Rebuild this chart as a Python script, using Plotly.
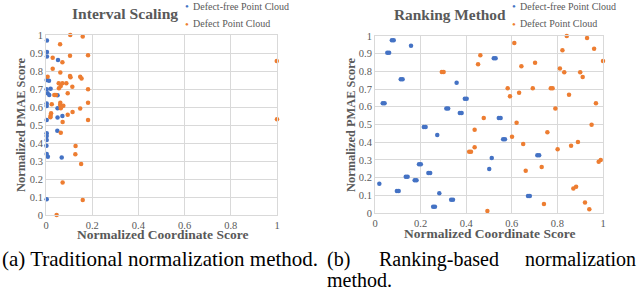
import plotly.graph_objects as go

# ---------------- data: Interval Scaling ----------------
is_free_x = [0.004, 0.004, 0.004, 0.052, 0.003, 0.013, 0.003, 0.020, 0.007, 0.014, 0.050,
             0.003, 0.003, 0.050, 0.071, 0.050, 0.003, 0.003, 0.003, 0.003, 0.002, 0.049,
             0.003, 0.008, 0.068, 0.003]
is_free_y = [0.970, 0.906, 0.880, 0.861, 0.750, 0.746, 0.698, 0.702, 0.676, 0.667, 0.665,
             0.620, 0.606, 0.593, 0.550, 0.541, 0.528, 0.454, 0.439, 0.417, 0.385, 0.468,
             0.339, 0.324, 0.320, 0.087]
is_def_x = [0.105, 0.159, 0.061, 0.182, 0.104, 0.029, 0.071, 0.029, 0.062, 0.007, 0.104, 0.106,
            0.148, 0.154, 0.055, 0.071, 0.088, 0.064, 0.114, 0.056, 0.182, 0.094, 0.036, 0.043,
            0.062, 0.182, 0.025, 0.061, 0.075, 0.064, 0.148, 0.115, 0.094, 0.022, 0.020, 0.019,
            0.072, 0.182, 0.999, 1.000, 0.064, 0.128, 0.127, 0.152, 0.072, 0.159, 0.046]
is_def_y = [1.000, 0.991, 0.948, 0.887, 0.885, 0.874, 0.848, 0.813, 0.791, 0.768, 0.772, 0.765,
            0.768, 0.759, 0.732, 0.732, 0.732, 0.717, 0.713, 0.704, 0.698, 0.676, 0.667, 0.667,
            0.624, 0.624, 0.615, 0.611, 0.607, 0.593, 0.591, 0.572, 0.557, 0.565, 0.552, 0.543,
            0.517, 0.528, 0.856, 0.532, 0.457, 0.383, 0.337, 0.283, 0.180, 0.083, 0.000]

# ---------------- data: Ranking Method ----------------
rk_free_x = [0.019, 0.034, 0.042, 0.054, 0.062, 0.074, 0.082, 0.096, 0.104, 0.113, 0.121,
             0.135, 0.143, 0.158, 0.174, 0.182, 0.193, 0.201, 0.214, 0.222, 0.234, 0.242,
             0.255, 0.263, 0.273, 0.282, 0.313, 0.321, 0.334, 0.342, 0.358, 0.372, 0.380,
             0.394, 0.402, 0.501, 0.512, 0.521, 0.529, 0.543, 0.551, 0.562, 0.570, 0.671,
             0.679, 0.712, 0.720]
rk_free_y = [0.165, 0.620, 0.620, 0.906, 0.906, 0.976, 0.976, 0.125, 0.125, 0.755, 0.755,
             0.205, 0.205, 0.945, 0.185, 0.185, 0.275, 0.275, 0.486, 0.486, 0.226, 0.226,
             0.036, 0.036, 0.440, 0.111, 0.591, 0.591, 0.075, 0.075, 0.736, 0.565, 0.565,
             0.646, 0.646, 0.249, 0.311, 0.874, 0.874, 0.537, 0.537, 0.416, 0.416, 0.096,
             0.096, 0.326, 0.326]
rk_def_x = [0.293, 0.301, 0.413, 0.421, 0.437, 0.437, 0.452, 0.462, 0.477, 0.493, 0.582,
            0.592, 0.601, 0.611, 0.621, 0.632, 0.642, 0.650, 0.661, 0.692, 0.702, 0.731,
            0.741, 0.756, 0.771, 0.779, 0.791, 0.801, 0.811, 0.822, 0.830, 0.841, 0.851,
            0.860, 0.870, 0.882, 0.890, 0.900, 0.911, 0.921, 0.930, 0.940, 0.950, 0.961,
            0.969, 0.981, 0.990, 1.000]
rk_def_y = [0.797, 0.797, 0.346, 0.346, 0.371, 0.470, 0.840, 0.891, 0.537, 0.011, 0.705,
            0.659, 0.431, 0.960, 0.510, 0.680, 0.829, 0.390, 0.239, 0.705, 0.849, 0.260,
            0.051, 0.456, 0.705, 0.705, 0.591, 0.360, 0.817, 0.919, 0.795, 1.000, 0.668,
            0.380, 0.139, 0.149, 0.401, 0.795, 0.768, 0.060, 0.989, 0.021, 0.499, 0.928,
            0.620, 0.290, 0.300, 0.859]

x_ticks = [0, 0.2, 0.4, 0.6, 0.8, 1]
y_ticks = [0, 0.1, 0.2, 0.3, 0.4, 0.5, 0.6, 0.7, 0.8, 0.9, 1]

titles = ["Interval Scaling", "Ranking Method"]
legend_names = ["Defect-free Point Cloud", "Defect Point Cloud"]

BLUE = "#4472C4"
ORANGE = "#ED7D31"
GREY = "#595959"
GRID = "#D9D9D9"
SERIF = "Liberation Serif"

W, H = 640, 290

def px(x):
    return x / W

def py(y):
    return 1 - y / H

fig = go.Figure()

mk = dict(size=4.5)
fig.add_trace(go.Scatter(x=is_free_x, y=is_free_y, mode="markers", name=legend_names[0],
                         marker=dict(color=BLUE, **mk), xaxis="x", yaxis="y", cliponaxis=False))
fig.add_trace(go.Scatter(x=is_def_x, y=is_def_y, mode="markers", name=legend_names[1],
                         marker=dict(color=ORANGE, **mk), xaxis="x", yaxis="y", cliponaxis=False))
fig.add_trace(go.Scatter(x=rk_free_x, y=rk_free_y, mode="markers", name=legend_names[0],
                         marker=dict(color=BLUE, **mk), xaxis="x2", yaxis="y2", cliponaxis=False))
fig.add_trace(go.Scatter(x=rk_def_x, y=rk_def_y, mode="markers", name=legend_names[1],
                         marker=dict(color=ORANGE, **mk), xaxis="x2", yaxis="y2", cliponaxis=False))

axis_common = dict(range=[0, 1], showgrid=True, gridcolor=GRID, gridwidth=1,
                   zeroline=False, showline=True, linecolor=GRID, linewidth=1, mirror=True,
                   ticks="", tickfont=dict(family=SERIF, size=10.5, color=GREY), fixedrange=True,
                   automargin=False)

fig.update_layout(
    width=W, height=H, autosize=False,
    margin=dict(l=0, r=0, t=0, b=0, pad=0, autoexpand=False),
    paper_bgcolor="white", plot_bgcolor="white",
    font=dict(family=SERIF, color=GREY),
    xaxis=dict(domain=[px(46), px(277)], anchor="y", tickvals=x_ticks, **axis_common),
    yaxis=dict(domain=[py(215), py(35)], anchor="x", tickvals=y_ticks, **axis_common),
    xaxis2=dict(domain=[px(375), px(603)], anchor="y2", tickvals=x_ticks, **axis_common),
    yaxis2=dict(domain=[py(213), py(36)], anchor="x2", tickvals=y_ticks, **axis_common),
    showlegend=False,
)

ann = []

def add(x, y, text, size, color=GREY, xanchor="center", angle=0):
    ann.append(dict(x=px(x), y=py(y), text=text, showarrow=False, xref="paper", yref="paper",
                    xanchor=xanchor, yanchor="middle", textangle=angle,
                    font=dict(family=SERIF, size=size, color=color)))

# chart titles
add(125, 14, "<b>" + titles[0] + "</b>", 15.6)
add(450, 15, "<b>" + titles[1] + "</b>", 15.4)
# legends (marker bullet + label)
for lx in [187, 514]:
    add(lx, 6, "•", 11, color=BLUE)
    add(lx + 4, 6, legend_names[0], 10, xanchor="left")
    add(lx, 24, "•", 11, color=ORANGE)
    add(lx + 4, 24, legend_names[1], 10, xanchor="left")
# axis titles
add(21, 125, "<b>Normalized PMAE Score</b>", 12.4, angle=-90)
add(351, 125, "<b>Normalized PMAE Score</b>", 12.4, angle=-90)
add(162, 234.5, "<b>Normalized Coordinate Score</b>", 13.5)
add(489, 234, "<b>Normalized Coordinate Score</b>", 13.5)
# captions
add(0, 259, "(a) Traditional normalization method.", 21, color="black", xanchor="left")
add(325, 259, "(b)", 20, color="black", xanchor="left")
add(439, 259, "Ranking-based", 20, color="black")
add(638, 259, "normalization", 20, color="black", xanchor="right")
add(325, 280, "method.", 20, color="black", xanchor="left")
fig.update_layout(annotations=ann)

fig.write_html("out.html", config={"displayModeBar": False},
               post_script="document.body.style.margin='0px';document.body.style.overflow='hidden';")
